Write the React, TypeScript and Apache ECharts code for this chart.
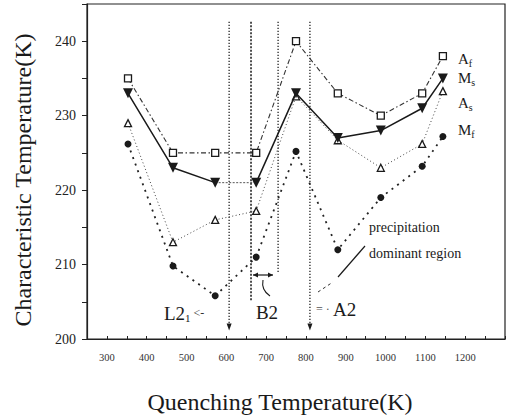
import React, { useEffect, useRef } from "react";
import * as echarts from "echarts";

const quenchT = [353, 466, 572, 675, 775, 880, 988, 1092, 1144];
const Af = [235, 225, 225, 225, 240, 233, 230, 233, 238];
const Ms = [233, 223, 221, 221, 233, 227, 228, 231, 235];
const As = [229, 213, 216, 217.2, 232.6, 226.7, 223, 226.2, 233.3];
const Mf = [226.2, 209.8, 205.8, 211, 225.2, 212, 219, 223.2, 227.2];

const boundaryT = [607, 662, 730, 810];
const boundaryTop = [242.6, 242.6, 242.6, 242.6];
const boundaryBottom = [201.6, 205, 209, 201.6];
const boundaryArrow = [true, false, false, true];

const xTickLabels = [300, 400, 500, 600, 700, 800, 900, 1000, 1100, 1200];
const yTickLabels = [200, 210, 220, 230, 240];

const SERIF = "'Liberation Serif', 'DejaVu Serif', 'Times New Roman', serif";
const INK = "#1a1a1a";

function pairs(ys: number[]) {
  return quenchT.map((x, i) => [x, ys[i]]);
}

export default function App() {
  const ref = useRef<HTMLDivElement>(null);
  useEffect(() => {
    if (!ref.current) return;
    const chart = echarts.init(ref.current, undefined, { renderer: "svg" });

    const boundarySeries = boundaryT.map((t, i) => ({
      type: "line",
      silent: true,
      data: [
        { value: [t, boundaryTop[i]], symbol: "none" },
        boundaryArrow[i]
          ? { value: [t, boundaryBottom[i]], symbol: "triangle", symbolRotate: 180, symbolSize: [5, 7] }
          : { value: [t, boundaryBottom[i]], symbol: "none" },
      ],
      itemStyle: { color: INK },
      lineStyle: {
        color: "#222",
        width: i === 1 ? 1.6 : 1.3,
        type: i === 1 ? [2, 1.5] : [1.2, 1.8],
      },
      z: 1,
    }));

    const msAll = pairs(Ms);
    const sub = { fontSize: 10, fontFamily: SERIF, fill: INK, verticalAlign: "bottom", padding: [8, 0, 0, 0] };
    const big = { fontSize: 15, fontFamily: SERIF, fill: INK };

    const option: any = {
      animation: false,
      backgroundColor: "#fff",
      grid: { left: 87, right: 3, top: 4, bottom: 81, show: true, borderColor: "#222", borderWidth: 1.2 },
      xAxis: {
        type: "value",
        min: 250,
        max: 1300,
        interval: 50,
        axisLine: { show: true, lineStyle: { color: "#222", width: 1.2 } },
        axisTick: { show: true, inside: true, length: 3, lineStyle: { color: "#222" } },
        splitLine: { show: false },
        axisLabel: {
          margin: 13,
          fontSize: 10.5,
          fontFamily: SERIF,
          color: "#333",
          formatter: (v: number) => (xTickLabels.includes(v) ? String(v) : ""),
        },
      },
      yAxis: {
        type: "value",
        min: 200,
        max: 245,
        interval: 5,
        axisLine: { show: true, lineStyle: { color: "#222", width: 1.2 } },
        axisTick: { show: true, inside: false, length: 5, lineStyle: { color: "#222" } },
        splitLine: { show: false },
        axisLabel: {
          margin: 11,
          fontSize: 14,
          fontFamily: SERIF,
          color: "#222",
          formatter: (v: number) => (yTickLabels.includes(v) ? String(v) : ""),
        },
      },
      series: [
        ...boundarySeries,
        {
          name: "Af",
          type: "line",
          data: pairs(Af),
          symbol: "rect",
          symbolSize: 7,
          itemStyle: { color: "#fff", borderColor: INK, borderWidth: 1.3 },
          lineStyle: { color: "#333", width: 1.1, type: [5, 2.5, 1.5, 2.5] },
          z: 3,
        },
        {
          name: "Ms-a",
          type: "line",
          data: msAll.slice(0, 3),
          symbol: "triangle",
          symbolRotate: 180,
          symbolSize: 10,
          itemStyle: { color: INK },
          lineStyle: { color: INK, width: 1.5 },
          z: 4,
        },
        {
          name: "Ms-b",
          type: "line",
          data: msAll.slice(2, 4),
          symbol: "none",
          lineStyle: { color: "#444", width: 0.9, type: [2, 1.5] },
          z: 4,
        },
        {
          name: "Ms-c",
          type: "line",
          data: msAll.slice(3),
          symbol: "triangle",
          symbolRotate: 180,
          symbolSize: 10,
          itemStyle: { color: INK },
          lineStyle: { color: INK, width: 1.5 },
          z: 4,
        },
        {
          name: "As",
          type: "line",
          data: pairs(As),
          symbol: "triangle",
          symbolSize: 7,
          itemStyle: { color: "#fff", borderColor: INK, borderWidth: 1.3 },
          lineStyle: { color: "#444", width: 1, type: [1, 2.5] },
          z: 3,
        },
        {
          name: "Mf",
          type: "line",
          data: pairs(Mf),
          symbol: "circle",
          symbolSize: 7,
          itemStyle: { color: INK },
          lineStyle: { color: "#222", width: 1.8, type: [2, 5] },
          z: 3,
        },
      ],
      graphic: [
        {
          type: "text",
          x: 23,
          y: 180,
          rotation: Math.PI / 2,
          style: {
            text: "Characteristic Temperature(K)",
            font: `24px ${SERIF}`,
            fill: INK,
            textAlign: "center",
            textVerticalAlign: "middle",
          },
        },
        {
          type: "text",
          x: 280,
          y: 402,
          style: {
            text: "Quenching Temperature(K)",
            font: `24px ${SERIF}`,
            fill: INK,
            textAlign: "center",
            textVerticalAlign: "middle",
          },
        },
        // legend-like end labels
        { type: "text", x: 458, y: 59, style: { text: "{m|A}{s|f}", rich: { m: big, s: sub }, textVerticalAlign: "middle" } },
        { type: "text", x: 458, y: 78, style: { text: "{m|M}{s|s}", rich: { m: big, s: sub }, textVerticalAlign: "middle" } },
        { type: "text", x: 458, y: 103, style: { text: "{m|A}{s|s}", rich: { m: big, s: sub }, textVerticalAlign: "middle" } },
        { type: "text", x: 458, y: 130, style: { text: "{m|M}{s|f}", rich: { m: big, s: sub }, textVerticalAlign: "middle" } },
        // region labels
        {
          type: "text",
          x: 164,
          y: 313,
          style: {
            text: "{m|L2}{s|1}{a| <-}",
            rich: {
              m: { fontSize: 19, fontFamily: SERIF, fill: INK },
              s: { fontSize: 11, fontFamily: SERIF, fill: INK, verticalAlign: "bottom", padding: [10, 0, 0, 0] },
              a: { fontSize: 12, fontFamily: SERIF, fill: "#333" },
            },
            textVerticalAlign: "middle",
          },
        },
        { type: "text", x: 267, y: 312, style: { text: "B2", font: `19px ${SERIF}`, fill: INK, textAlign: "center", textVerticalAlign: "middle" } },
        {
          type: "text",
          x: 316,
          y: 309,
          style: {
            text: "{a|= ·} {m|A2}",
            rich: {
              m: { fontSize: 19, fontFamily: SERIF, fill: INK },
              a: { fontSize: 12, fontFamily: SERIF, fill: "#555" },
            },
            textVerticalAlign: "middle",
          },
        },
        { type: "text", x: 369, y: 227, style: { text: "precipitation", font: `14px ${SERIF}`, fill: INK, textVerticalAlign: "middle" } },
        { type: "text", x: 369, y: 253, style: { text: "dominant region", font: `14px ${SERIF}`, fill: INK, textVerticalAlign: "middle" } },
        // double arrow between B2 boundaries
        { type: "line", shape: { x1: 253, y1: 275, x2: 273, y2: 275 }, style: { stroke: INK, lineWidth: 1.2 } },
        { type: "polygon", shape: { points: [[253, 275], [258, 272.5], [258, 277.5]] }, style: { fill: INK } },
        { type: "polygon", shape: { points: [[273, 275], [268, 272.5], [268, 277.5]] }, style: { fill: INK } },
        { type: "bezierCurve", shape: { x1: 263, y1: 280, x2: 270, y2: 296, cpx1: 261, cpy1: 290 }, style: { stroke: INK, lineWidth: 1.1, fill: "none" } },
        // leader lines
        { type: "line", shape: { x1: 338, y1: 277, x2: 365, y2: 246 }, style: { stroke: INK, lineWidth: 1.2 } },
        { type: "line", shape: { x1: 318, y1: 292, x2: 333, y2: 282 }, style: { stroke: "#333", lineWidth: 1, lineDash: [3, 3] } },
      ],
    };
    chart.setOption(option);
    return () => chart.dispose();
  }, []);
  return <div ref={ref} style={{ width: 508, height: 420, position: "absolute", left: 0, top: 0 }} />;
}
